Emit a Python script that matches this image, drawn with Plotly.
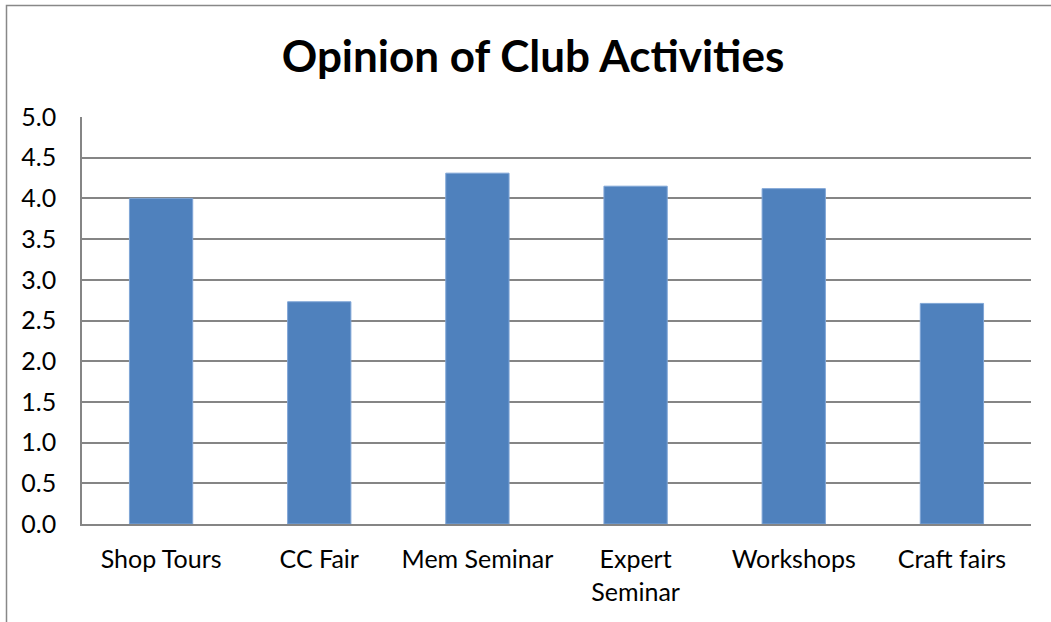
import plotly.graph_objects as go

categories = ["Shop Tours", "CC Fair", "Mem Seminar", "Expert<br>Seminar", "Workshops", "Craft fairs"]
values = [4.0, 2.73, 4.31, 4.15, 4.12, 2.71]
y_ticks = [0.0, 0.5, 1.0, 1.5, 2.0, 2.5, 3.0, 3.5, 4.0, 4.5, 5.0]
title_text = "Opinion of Club Activities"

W, H = 1051, 622
ML, MR, MT, MB = 82, 20, 117, 98
pw, ph = W - ML - MR, H - MT - MB

FONT = "Lato, Carlito, Calibri, sans-serif"
TICK = 25

fig = go.Figure(go.Bar(
    x=categories, y=values,
    marker=dict(color="#4F81BD", line=dict(color="#7FA5D6", width=1)),
    hoverinfo="x+y",
))

fig.update_layout(
    width=W, height=H,
    margin=dict(l=ML, r=MR, t=MT, b=MB),
    paper_bgcolor="white", plot_bgcolor="white",
    bargap=0.6,
    showlegend=False,
    title=dict(text="<b>" + title_text + "</b>", x=533 / W, xanchor="center",
               y=1 - 57 / H, yanchor="middle",
               font=dict(family=FONT, size=44, color="black")),
    font=dict(family=FONT, size=TICK, color="black"),
)

fig.update_yaxes(
    range=[0, 5], tickvals=y_ticks, tickformat=".1f",
    showgrid=True, gridcolor="#858585", gridwidth=1.6,
    showline=True, linecolor="#858585", linewidth=1.6,
    ticks="", ticklabelstandoff=19, zeroline=False,
    tickfont=dict(family=FONT, size=TICK, color="black"),
)
fig.update_xaxes(
    showline=True, linecolor="#858585", linewidth=2,
    ticks="", showgrid=False, ticklabelstandoff=12,
    tickfont=dict(family=FONT, size=TICK, color="black"),
)

# outer chart border (its right and bottom edges are cropped in the reference)
fig.add_shape(type="rect", xref="paper", yref="paper",
              x0=(6.5 - ML) / pw, x1=(W + 20 - ML) / pw,
              y0=-(H + 20 - MT - ph) / ph, y1=1 + (MT - 5.5) / ph,
              line=dict(color="#888888", width=1.5), layer="below")

fig.write_html("out.html",
               config={"displayModeBar": False},
               post_script="document.body.style.margin='0';document.body.style.overflow='hidden';")
